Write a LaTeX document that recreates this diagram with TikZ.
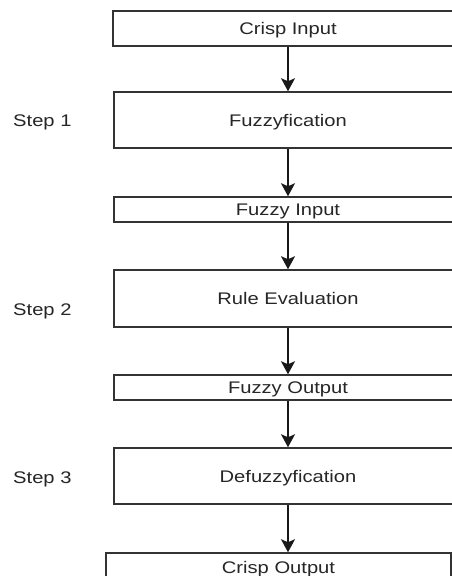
\documentclass[tikz,border=0pt]{standalone}
\usepackage{fontspec}
\setmainfont{Liberation Sans}[FakeStretch=1.2]
\usetikzlibrary{arrows.meta}
\begin{document}
\begin{tikzpicture}[x=1pt,y=-1pt,
  txt/.style={font=\fontsize{16.8}{20}\selectfont, text height=12pt, text depth=0pt, text=black!85},
  box/.style={txt, draw=black!80, line width=1.5pt, inner sep=0pt, minimum width=348pt},
  lab/.style={txt, anchor=west, inner sep=0pt},
  conn/.style={-{Stealth[length=13pt,width=14pt,inset=3pt]}, line width=1.5pt, black!90}]
\useasboundingbox (0,0) rectangle (452,576);
\clip (0,0) rectangle (452,576);
\fill[white] (0,0) rectangle (452,576);

\node[box, minimum width=350pt, minimum height=35pt] (ci) at (288,28.5) {Crisp Input};
\node[box, minimum height=56pt] (fz) at (288,120) {Fuzzyfication};
\node[box, minimum height=25pt] (fi) at (288,209.5) {Fuzzy Input};
\node[box, minimum height=57pt] (re) at (288,298.5) {Rule Evaluation};
\node[box, minimum height=25pt] (fo) at (288,387.5) {Fuzzy Output};
\node[box, minimum height=56pt] (df) at (288,476) {Defuzzyfication};
\node[box, minimum width=345pt, minimum height=28pt] (co) at (278.5,567) {Crisp Output};

\node[lab] (s1) at (13,120) {Step 1};
\node[lab] (s2) at (13,309) {Step 2};
\node[lab] (s3) at (13,477.5) {Step 3};

\draw[conn] (ci) -- (fz);
\draw[conn] (fz) -- (fi);
\draw[conn] (fi) -- (re);
\draw[conn] (re) -- (fo);
\draw[conn] (fo) -- (df);
\draw[conn] (df.south) -- (df.south |- co.north);
\end{tikzpicture}
\end{document}
